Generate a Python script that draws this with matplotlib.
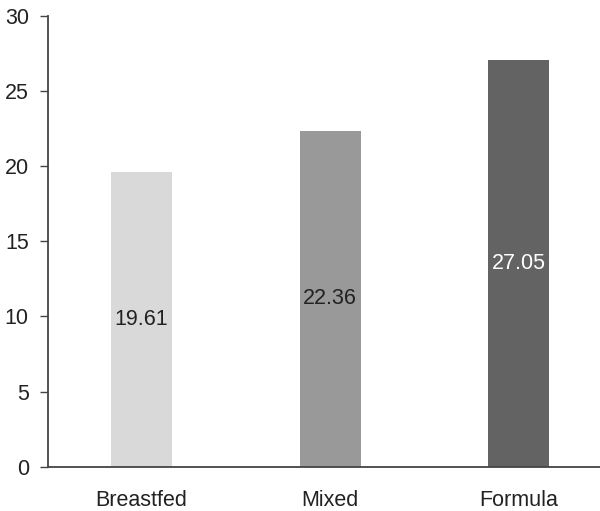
import matplotlib
matplotlib.use("Agg")
import matplotlib.pyplot as plt

categories = ["Breastfed", "Mixed", "Formula"]
values = [19.61, 22.36, 27.05]
bar_colors = ["#d9d9d9", "#999999", "#636363"]
label_colors = ["#222222", "#222222", "#ffffff"]
yticks = [0, 5, 10, 15, 20, 25, 30]

plt.rcParams['font.family'] = ['Liberation Sans', 'DejaVu Sans']
fig = plt.figure(figsize=(6, 5.11), dpi=100)
ax = fig.add_axes([0.08, 0.0867, 0.92, 0.8826])
x = list(range(len(categories)))
bars = ax.bar(x, values, width=0.324, color=bar_colors)
for xi, v, c in zip(x, values, label_colors):
    ax.text(xi, v / 2, f"{v:.2f}", ha="center", va="center", fontsize=15.5, color=c)

ax.set_xlim(-0.496, 2.43)
ax.set_ylim(0, 30)
ax.set_yticks(yticks)
ax.set_xticks(x)
ax.set_xticklabels(categories)
for s in ["top", "right"]:
    ax.spines[s].set_visible(False)
for s in ["left", "bottom"]:
    ax.spines[s].set_color("#444444")
    ax.spines[s].set_linewidth(1.3)
ax.tick_params(axis="y", length=5.8, width=1.0, color="#444444", pad=8, labelsize=15.5, labelcolor="#222222")
ax.tick_params(axis="x", length=0, pad=16.5, labelsize=15.5, labelcolor="#222222")
fig.savefig("out.png", dpi=100)
